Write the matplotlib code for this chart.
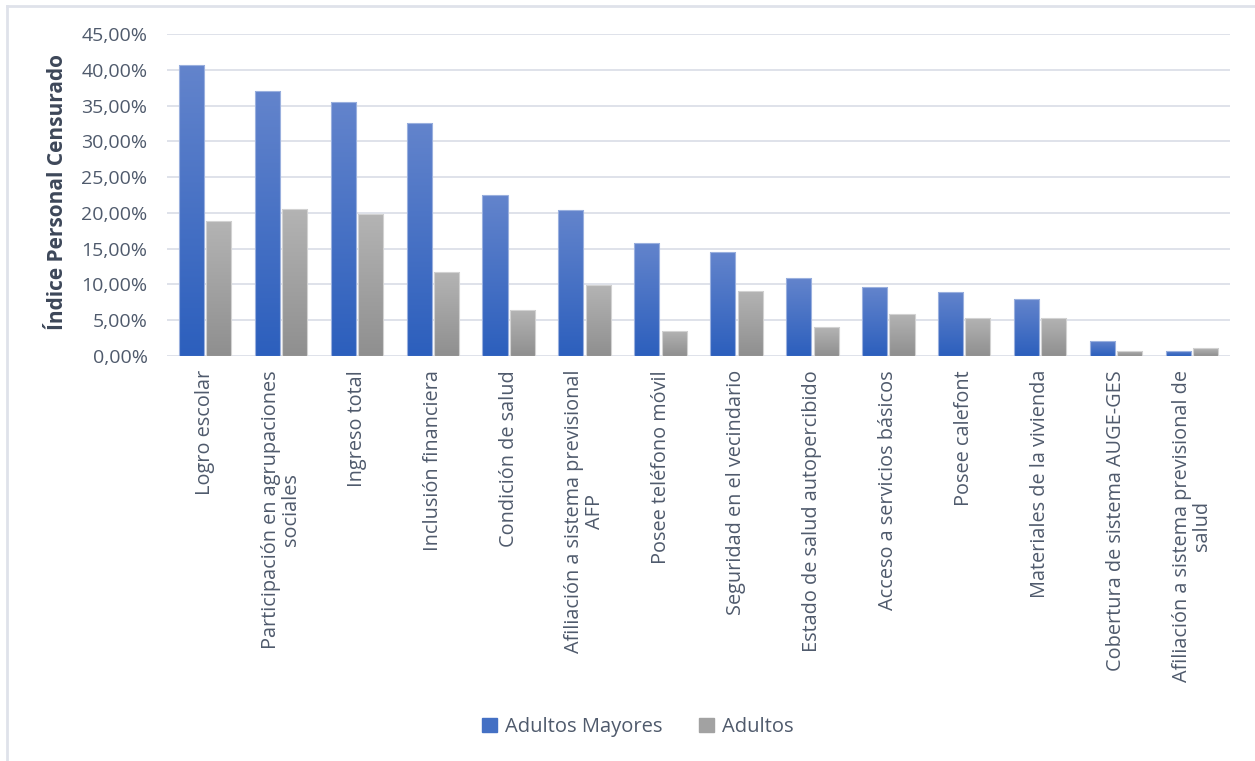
import numpy as np
import matplotlib
matplotlib.use("Agg")
import matplotlib.pyplot as plt
from matplotlib.patches import Patch
from matplotlib.lines import Line2D
from matplotlib.colors import LinearSegmentedColormap

plt.rcParams['font.family'] = ['Open Sans', 'DejaVu Sans']

categories = [
    "Logro escolar",
    "Participación en agrupaciones\nsociales",
    "Ingreso total",
    "Inclusión financiera",
    "Condición de salud",
    "Afiliación a sistema previsional\nAFP",
    "Posee teléfono móvil",
    "Seguridad en el vecindario",
    "Estado de salud autopercibido",
    "Acceso a servicios básicos",
    "Posee calefont",
    "Materiales de la vivienda",
    "Cobertura de sistema AUGE-GES",
    "Afiliación a sistema previsional de\nsalud",
]
adultos_mayores = [40.6, 37.0, 35.5, 32.6, 22.5, 20.4, 15.8, 14.6, 10.9, 9.6, 9.0, 7.9, 2.1, 0.75]
adultos = [18.9, 20.6, 19.8, 11.7, 6.4, 9.9, 3.5, 9.1, 4.0, 5.9, 5.35, 5.35, 0.75, 1.1]
yticks = np.arange(0, 46, 5)

TXT = "#4f5a6c"
GRID = "#dfe2ea"

fig = plt.figure(figsize=(12.55, 7.61), dpi=100)
ax = fig.add_axes([167 / 1255, 405 / 761, 1063 / 1255, 322 / 761])

x = np.arange(len(categories))
w = 0.33
off = 0.18

blue_cmap = LinearSegmentedColormap.from_list("b", ["#2c5fbd", "#6384cc"])
gray_cmap = LinearSegmentedColormap.from_list("g", ["#8f8f8f", "#b4b4b4"])
grad = np.linspace(0, 1, 256).reshape(-1, 1)


def gradient_bars(xs, vals, cmap, edge):
    bars = ax.bar(xs, vals, w, color="none", edgecolor=edge, linewidth=0.8, zorder=3)
    for b in bars:
        x0, y0 = b.get_x(), b.get_y()
        im = ax.imshow(grad, cmap=cmap, origin="lower", aspect="auto",
                       extent=[x0, x0 + b.get_width(), y0, y0 + b.get_height()], zorder=2)
        im.set_clip_path(b)
    return bars


gradient_bars(x - off, adultos_mayores, blue_cmap, "#9ab0de")
gradient_bars(x + off, adultos, gray_cmap, "#d2d2d2")

ax.set_xlim(-0.5, len(categories) - 0.5)
ax.set_ylim(0, 45)
ax.set_yticks(yticks)
ax.set_yticklabels([f"{v:.2f}%".replace(".", ",") for v in yticks])
ax.yaxis.grid(True, color=GRID, linewidth=1.4, zorder=0)
ax.set_axisbelow(True)
for s in ax.spines.values():
    s.set_visible(False)
ax.tick_params(axis="y", length=0, pad=14, labelsize=14, labelcolor=TXT)
ax.set_xticks(x)
ax.set_xticklabels(categories, rotation=90, ha="center", va="top",
                   multialignment="center", linespacing=1.05)
ax.tick_params(axis="x", length=0, pad=10, labelsize=14.3, labelcolor=TXT)

fig.text(58 / 1255, 1 - 192 / 761, "Índice Personal Censurado", rotation=90,
         ha="center", va="center", fontsize=15, fontweight="bold", color="#3d4759")

handles = [Patch(facecolor="#4470c4", edgecolor="#4470c4", label="Adultos Mayores"),
           Patch(facecolor="#a2a2a2", edgecolor="#a2a2a2", label="Adultos")]
fig.legend(handles=handles, loc="center", bbox_to_anchor=(638 / 1255, 1 - 727 / 761),
           ncol=2, frameon=False, fontsize=14.5, handlelength=0.75, handleheight=0.75,
           handletextpad=0.4, columnspacing=1.8, labelcolor=TXT)

# chart frame (left and top edges visible)
fig.add_artist(Line2D([7 / 1255, 7 / 1255], [0, 1 - 6 / 761], color=GRID, lw=2,
                      transform=fig.transFigure))
fig.add_artist(Line2D([7 / 1255, 1], [1 - 6 / 761, 1 - 6 / 761], color=GRID, lw=2,
                      transform=fig.transFigure))

fig.savefig("out.png", dpi=100, facecolor="white")
